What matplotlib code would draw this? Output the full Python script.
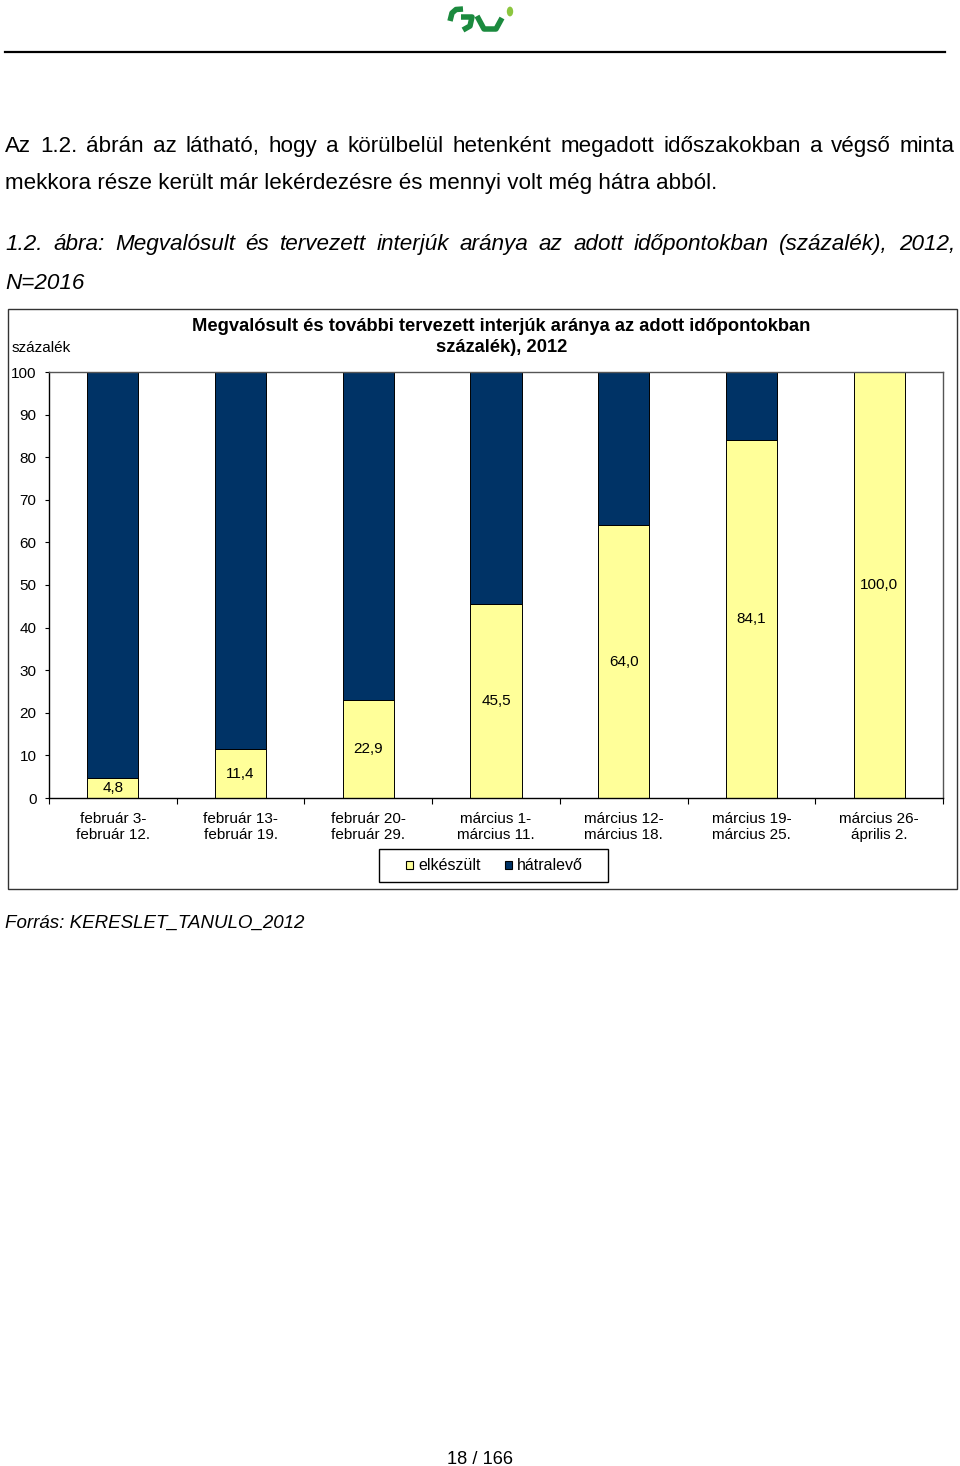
import matplotlib
matplotlib.use('Agg')
import matplotlib.pyplot as plt
from matplotlib.patches import Rectangle, Circle
from matplotlib.lines import Line2D

# ---------------- data ----------------
categories = ["február 3-\nfebruár 12.", "február 13-\nfebruár 19.", "február 20-\nfebruár 29.",
              "március 1-\nmárcius 11.", "március 12-\nmárcius 18.", "március 19-\nmárcius 25.",
              "március 26-\náprilis 2."]
elkeszult = [4.8, 11.4, 22.9, 45.5, 64.0, 84.1, 100.0]
hatralevo = [95.2, 88.6, 77.1, 54.5, 36.0, 15.9, 0.0]
data_labels = ["4,8", "11,4", "22,9", "45,5", "64,0", "84,1", "100,0"]
yticks = [0, 10, 20, 30, 40, 50, 60, 70, 80, 90, 100]
series_names = ["elkészült", "hátralevő"]

body_line1 = "Az 1.2. ábrán az látható, hogy a körülbelül hetenként megadott időszakokban a végső minta"
body_line2 = "mekkora része került már lekérdezésre és mennyi volt még hátra abból."
cap_line1 = "1.2. ábra: Megvalósult és tervezett interjúk aránya az adott időpontokban (százalék), 2012,"
cap_line2 = "N=2016"
chart_title1 = "Megvalósult és további tervezett interjúk aránya az adott időpontokban"
chart_title2 = "százalék), 2012"
y_unit = "százalék"
source = "Forrás: KERESLET_TANULO_2012"
page_no = "18 / 166"

YELLOW = "#FFFF99"
NAVY = "#003366"

plt.rcParams['font.family'] = ['Liberation Sans', 'DejaVu Sans']

W, H = 960, 1466
fig = plt.figure(figsize=(W / 100, H / 100), dpi=100)
fig.patch.set_facecolor('white')
renderer = fig.canvas.get_renderer()


def X(px):
    return px / W


def Y(py):
    return 1 - py / H


def width_px(s, size, **kw):
    t = fig.text(0, 0, s, fontsize=size, **kw)
    w = t.get_window_extent(renderer).width
    t.remove()
    return w


def fit_size(s, target, **kw):
    return 20 * target / width_px(s, 20, **kw)


def justified(line, x0, x1, y, size, **kw):
    words = line.split(' ')
    widths = [width_px(w, size, **kw) for w in words]
    gap = (x1 - x0 - sum(widths)) / (len(words) - 1)
    x = x0
    for w, wd in zip(words, widths):
        fig.text(X(x), Y(y), w, fontsize=size, va='baseline', ha='left', **kw)
        x += wd + gap


# ---------------- page header (logo + rule) ----------------
GREEN = "#1b8a3e"
lw_logo = 5.5 * 0.72
fig.add_artist(Line2D([X(450), X(452), X(456), X(463)], [Y(21), Y(13), Y(9.5), Y(9)],
                      color=GREEN, lw=lw_logo, solid_capstyle='butt', solid_joinstyle='round'))
fig.add_artist(Line2D([X(461), X(472), X(470), X(463)], [Y(17), Y(17), Y(26), Y(30)],
                      color=GREEN, lw=lw_logo, solid_capstyle='butt', solid_joinstyle='round'))
fig.add_artist(Line2D([X(477), X(484), X(496), X(502)], [Y(16), Y(29), Y(29), Y(18)],
                      color=GREEN, lw=lw_logo, solid_capstyle='butt', solid_joinstyle='round'))
fig.add_artist(Circle((X(510), Y(11.5)), 3.2 / W, transform=fig.transFigure,
                      color="#8cc63f", lw=0))
fig.add_artist(Line2D([X(5), X(945)], [Y(52), Y(52)], color='black', lw=1.6))

# ---------------- body text ----------------
body_size = fit_size(body_line2, 711)
justified(body_line1, 5, 955, 152, body_size)
fig.text(X(5), Y(189), body_line2, fontsize=body_size, va='baseline', ha='left')

cap_size = fit_size(cap_line2, 79, style='italic')
justified(cap_line1, 5, 955, 250, cap_size, style='italic')
fig.text(X(5), Y(289), cap_line2, fontsize=cap_size, style='italic', va='baseline', ha='left')

# ---------------- chart frame ----------------
fig.add_artist(Rectangle((X(8), Y(889)), X(957) - X(8), Y(309) - Y(889),
                         transform=fig.transFigure, fill=False, edgecolor='#333333', lw=1.0))

title_size = fit_size(chart_title1, 621, weight='bold')
fig.text(X(501), Y(331), chart_title1, fontsize=title_size, weight='bold', ha='center', va='baseline')
fig.text(X(502), Y(352), chart_title2, fontsize=title_size, weight='bold', ha='center', va='baseline')
fig.text(X(12), Y(352), y_unit, fontsize=11, ha='left', va='baseline')

# ---------------- axes ----------------
ax = fig.add_axes([X(49), Y(798), X(943) - X(49), Y(372) - Y(798)])
n = len(categories)
xs = list(range(n))
ax.bar(xs, elkeszult, width=0.4, color=YELLOW, edgecolor='black', linewidth=0.7,
       label=series_names[0], zorder=2)
ax.bar(xs, hatralevo, width=0.4, bottom=elkeszult, color=NAVY, edgecolor='black', linewidth=0.7,
       label=series_names[1], zorder=2)
for x, v, lab in zip(xs, elkeszult, data_labels):
    ax.text(x, v / 2, lab, ha='center', va='center', fontsize=11, color='black', zorder=3)

ax.set_xlim(-0.5, n - 0.5)
ax.set_ylim(0, 100)
ax.set_yticks(yticks)
ax.set_yticklabels([str(v) for v in yticks], fontsize=11)
ax.tick_params(axis='y', direction='out', length=3, width=0.8, pad=6, colors='black')
ax.set_xticks([i - 0.5 for i in range(n + 1)])
ax.set_xticklabels([])
ax.tick_params(axis='x', which='major', direction='out', length=4, width=0.8)
ax.set_xticks(xs, minor=True)
ax.set_xticklabels(categories, minor=True, fontsize=11, linespacing=1.15)
ax.tick_params(axis='x', which='minor', length=0, pad=10)
for s in ['left', 'bottom']:
    ax.spines[s].set_color('black')
    ax.spines[s].set_linewidth(1.0)
for s in ['top', 'right']:
    ax.spines[s].set_color('#555555')
    ax.spines[s].set_linewidth(1.0)

# legend: frame drawn separately, entries placed inside
fig.add_artist(Rectangle((X(379), Y(882)), X(608) - X(379), Y(849) - Y(882),
                         transform=fig.transFigure, fill=False, edgecolor='black', lw=1.0))
handles = [Rectangle((0, 0), 1, 1, facecolor=YELLOW, edgecolor='black', lw=0.8),
           Rectangle((0, 0), 1, 1, facecolor=NAVY, edgecolor='black', lw=0.8)]
leg = fig.legend(handles, series_names, loc='center left', bbox_to_anchor=(X(406), Y(866)),
                 ncol=2, fontsize=11.5, frameon=False, borderpad=0, borderaxespad=0,
                 handlelength=0.45, handleheight=0.45, handletextpad=0.3, columnspacing=1.55)

# ---------------- source & page number ----------------
src_size = fit_size(source, 299, style='italic')
fig.text(X(5), Y(928), source, fontsize=src_size, style='italic', ha='left', va='baseline')
pg_size = fit_size(page_no, 66)
fig.text(X(480), Y(1459), page_no, fontsize=pg_size, ha='center', va='center')

fig.savefig('out.png', dpi=100, facecolor='white')
